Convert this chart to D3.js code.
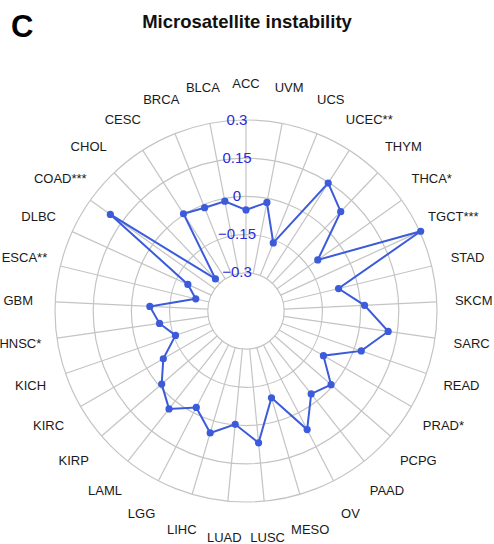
<!DOCTYPE html>
<meta charset="utf-8">
<style>
body { margin: 0; background: #fff; }
svg { font-family: "Liberation Sans", Arial, sans-serif; }
.grid circle, .grid line {
    fill: none;
    stroke: #c4c4c4;
    stroke-width: 1.2px;
}
.cat { font-size: 13px; fill: #1a1a1a; }
.tick { font-size: 15px; fill: #2b2bd9; }
</style>
<svg width="494" height="544"></svg>
<script src="https://d3js.org/d3.v7.min.js"></script>
<script>
    // cancer types, clockwise from the top
    var categories = ["ACC", "UVM", "UCS", "UCEC**", "THYM", "THCA*", "TGCT***", "STAD", "SKCM",
        "SARC", "READ", "PRAD*", "PCPG", "PAAD", "OV", "MESO", "LUSC", "LUAD", "LIHC", "LGG",
        "LAML", "KIRP", "KIRC", "KICH", "HNSC*", "GBM", "ESCA**", "DLBC", "COAD***", "CHOL",
        "CESC", "BRCA", "BLCA"];

    // correlation with microsatellite instability
    var values = [-0.053, -0.016, -0.162, 0.147, 0.089, -0.104, 0.304, -0.076, 0.016,
        0.114, 0.029, -0.099, -0.008, -0.036, 0.074, -0.095, 0.070, -0.003, 0.049, -0.024,
        0.039, -0.012, -0.075, -0.157, -0.107, -0.072, -0.247, -0.199, 0.204, -0.276,
        0.004, -0.013, -0.011];

    var tickValues = [-0.3, -0.15, 0, 0.15, 0.3];
    var tickLabels = ["\u22120.3", "\u22120.15", "0", "0.15", "0.3"];

    var data = categories.map(function(c, i) { return {name: c, value: values[i]}; });

    var svg = d3.select("svg");
    var cx = 246, cy = 311;
    var outer = 191;

    var g = svg.append("g")
        .attr("transform", "translate(" + cx + "," + cy + ")");

    var angle = d3.scaleBand()
        .domain(categories)
        .range([0, 2 * Math.PI]);

    var r = d3.scaleLinear()
        .domain([-0.45, 0.3])
        .range([0, outer]);

    function ang(name) { return angle(name); }

    // grid rings + spokes
    var grid = g.append("g").attr("class", "grid");
    grid.selectAll("circle")
        .data(tickValues)
        .enter().append("circle")
        .attr("r", function(d) { return r(d); });

    grid.selectAll("line")
        .data(categories)
        .enter().append("line")
        .attr("x1", function(d) { return r(-0.3) * Math.sin(ang(d)); })
        .attr("y1", function(d) { return -r(-0.3) * Math.cos(ang(d)); })
        .attr("x2", function(d) { return outer * Math.sin(ang(d)); })
        .attr("y2", function(d) { return -outer * Math.cos(ang(d)); });

    // category labels
    var labelR = 228;
    g.selectAll(".cat")
        .data(categories)
        .enter().append("text")
        .attr("class", "cat")
        .attr("x", function(d) { return labelR * Math.sin(ang(d)); })
        .attr("y", function(d) { return -labelR * Math.cos(ang(d)); })
        .attr("text-anchor", "middle")
        .attr("dominant-baseline", "central")
        .text(function(d) { return d; });

    // the series
    var line = d3.lineRadial()
        .angle(function(d) { return ang(d.name); })
        .radius(function(d) { return r(d.value); })
        .curve(d3.curveLinearClosed);

    g.append("path")
        .datum(data)
        .attr("d", line)
        .attr("fill", "none")
        .attr("stroke", "#3b5bdb")
        .attr("stroke-width", 2);

    g.selectAll(".dot")
        .data(data)
        .enter().append("circle")
        .attr("class", "dot")
        .attr("r", 3.6)
        .attr("cx", function(d) { return r(d.value) * Math.sin(ang(d.name)); })
        .attr("cy", function(d) { return -r(d.value) * Math.cos(ang(d.name)); })
        .attr("fill", "#3b5bdb");

    // radial tick labels
    g.selectAll(".tick")
        .data(tickValues)
        .enter().append("text")
        .attr("class", "tick")
        .attr("x", -9)
        .attr("y", function(d) { return -r(d) - 1; })
        .attr("text-anchor", "middle")
        .attr("dominant-baseline", "central")
        .text(function(d, i) { return tickLabels[i]; });

    // title + panel letter
    svg.append("text")
        .attr("x", 247)
        .attr("y", 28)
        .attr("text-anchor", "middle")
        .style("font-size", "18.5px")
        .style("font-weight", "bold")
        .style("fill", "#111")
        .text("Microsatellite instability");

    svg.append("text")
        .attr("x", 11)
        .attr("y", 37)
        .style("font-size", "31px")
        .style("font-weight", "bold")
        .text("C");
</script>
